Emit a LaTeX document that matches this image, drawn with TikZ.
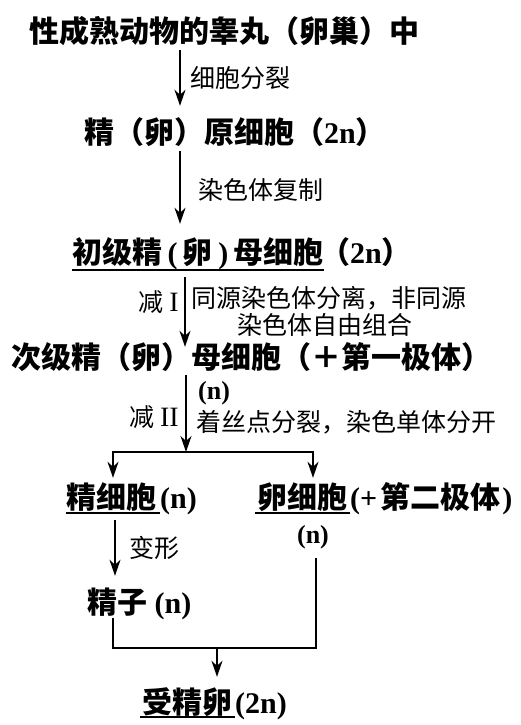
\documentclass[tikz,border=0pt]{standalone}
\usepackage{fontspec}
\setmainfont{Noto Sans CJK SC}
\newfontfamily\lat{Liberation Serif}
\usetikzlibrary{arrows.meta}
\begin{document}
\begin{tikzpicture}[x=1pt,y=-1pt,
  >={Stealth[length=16pt,width=11pt,inset=5pt]},
  big/.style={inner sep=0pt, anchor=west, text height=26pt, text depth=4pt, font=\fontsize{30pt}{30pt}\selectfont\bfseries},
  lbl/.style={inner sep=0pt, anchor=west, text height=22pt, text depth=3pt, font=\fontsize{25pt}{25pt}\selectfont},
  latn/.style={inner sep=0pt, anchor=west, text height=19pt, text depth=5pt, font=\fontsize{26pt}{26pt}\selectfont\lat\bfseries},
  arr/.style={line width=1.5pt, ->},
  ln/.style={line width=1.5pt},
]
\fill[white] (0,0) rectangle (520,725);
\useasboundingbox (0,0) rectangle (520,725);

\coordinate (X1) at (180,0);
\coordinate (X3) at (185,0);
\coordinate (X4) at (186,0);
\coordinate (X5) at (115,0);
\coordinate (XL) at (113,0);
\coordinate (XR) at (313,0);
\coordinate (XR2) at (316,0);
\coordinate (XM) at (217,0);
\coordinate (br) at (186,452);
\coordinate (m) at (217,648);

% texts
\node[big] (title) at (29,32) {性成熟动物的睾丸（卵巢）中};
\node[lbl] (l1) at (190,78) {细胞分裂};
\node[big] (n2) at (84,132) {精（卵）原细胞（{\lat\bfseries 2n}）};
\node[lbl] (l2) at (198,190) {染色体复制};
\node[big] (n3) at (72,252) {初级精{\lat\bfseries\hspace{0.18em}(\hspace{0.18em}}卵{\lat\bfseries\hspace{0.18em})\hspace{0.18em}}母细胞};
\node[big] (n3b) at (320,252) {（{\lat\bfseries 2n}）};
\node[lbl, anchor=east] (l3a) at (179,302) {减{\lat\fontsize{28pt}{28pt}\selectfont\hspace{0.2em}I}};
\node[lbl] (l3b) at (191,298) {同源染色体分离，非同源};
\node[lbl] (l3c) at (237,325) {染色体自由组合};
\node[big] (n4) at (11,357) {次级精（卵）母细胞（＋第一极体）};
\node[latn] (nn) at (198,392) {(n)};
\node[lbl, anchor=east] (l4a) at (179,417) {减{\lat\fontsize{28pt}{28pt}\selectfont\hspace{0.2em}II}};
\node[lbl] (l4b) at (196,422) {着丝点分裂，染色单体分开};

\node[big] (j1) at (66,497) {精细胞};
\node[big] (j1n) at (160,497) {\lat (n)};
\node[big] (e1) at (257,497) {卵细胞};
\node[big] (e1b) at (350,497) {{\lat(+}\hspace{3pt}第二极体\hspace{2pt}{\lat)}};
\node[latn, anchor=center] (e1n) at (313,536) {(n)};
\node[lbl] (l5) at (129,548) {变形};
\node[big] (s1) at (87,602) {精子{\lat\ (n)}};
\node[big] (z) at (142,702) {受精卵};
\node[big] (zn) at (235,702) {\lat (2n)};

% underlines
\draw[ln] ([yshift=-3pt]n3.south west) -- ([yshift=-3pt]n3.south east);
\draw[ln] ([yshift=-1pt]j1.south west) -- ([yshift=-1pt]j1n.south west);
\draw[ln] ([xshift=-2pt,yshift=-1pt]e1.south west) -- ([xshift=3pt,yshift=-1pt]e1.south east);
\draw[ln] ([xshift=-2pt,yshift=0pt]z.south west) -- ([xshift=3pt,yshift=0pt]z.south east);

% arrows
\draw[arr, shorten <=3pt, shorten >=11pt] (title.south -| X1) -- (n2.north -| X1);
\draw[arr, shorten <=4pt, shorten >=13pt] (n2.south -| X1) -- (n3.north -| X1);
\draw[arr, shorten <=10pt, shorten >=-5pt] (n3.south -| X3) -- (n4.north -| X3);
\draw[arr, shorten <=3pt] (n4.south -| X4) -- (br);
\draw[line width=1.5pt, <->, shorten <=4pt, shorten >=4pt]
  (j1.north -| XL) |- (br) -| (e1.north -| XR);
\draw[arr, shorten <=8pt, shorten >=11pt] (j1.south -| X5) -- (s1.north -| X5);
\draw[ln, shorten <=1pt, shorten >=9.5pt] (s1.south -| XL) |- (m) -| (e1n.south -| XR2);
\draw[arr, shorten >=10pt] (m) -- (z.north -| XM);
\end{tikzpicture}
\end{document}
